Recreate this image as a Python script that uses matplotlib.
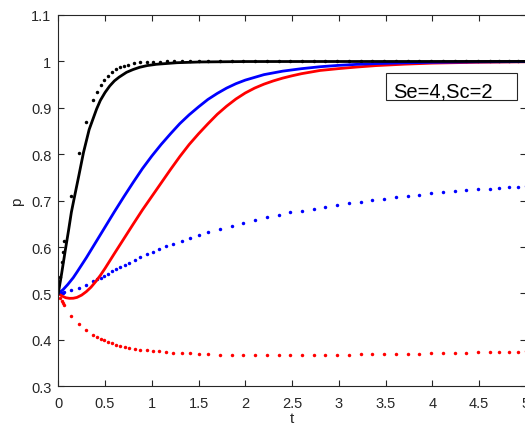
import numpy as np
import matplotlib
matplotlib.use('Agg')
import matplotlib.pyplot as plt
from matplotlib.patches import Rectangle
from matplotlib.ticker import FormatStrFormatter, MultipleLocator

plt.rcParams['font.family'] = ['Liberation Sans', 'DejaVu Sans']

# solid curves
t_black = [0, 0.036, 0.075, 0.11, 0.14, 0.17, 0.22, 0.27, 0.33, 0.41, 0.45, 0.5,
           0.55, 0.6, 0.65, 0.73, 0.8, 0.87, 0.95, 1.05, 1.27, 1.52, 2.0, 5.0]
p_black = [0.5, 0.543, 0.593, 0.636, 0.675, 0.705, 0.754, 0.804, 0.853, 0.8975,
           0.916, 0.933, 0.947, 0.958, 0.966, 0.9765, 0.9825, 0.9873, 0.991,
           0.9938, 0.9972, 0.9988, 0.9997, 1.0]

t_blue = [0, 0.05, 0.1, 0.16, 0.2, 0.3, 0.4, 0.5, 0.6, 0.7, 0.8, 0.9, 1.0, 1.1,
          1.2, 1.3, 1.4, 1.5, 1.6, 1.7, 1.8, 1.9, 2.0, 2.2, 2.4, 2.6, 2.8, 3.0,
          3.2, 3.4, 3.7, 4.0, 4.5, 5.0]
p_blue = [0.5, 0.508, 0.519, 0.534, 0.546, 0.577, 0.610, 0.643, 0.676, 0.708,
          0.739, 0.769, 0.796, 0.821, 0.844, 0.866, 0.885, 0.902, 0.918, 0.931,
          0.9425, 0.952, 0.9597, 0.9715, 0.979, 0.9843, 0.9885, 0.9915, 0.9937,
          0.9953, 0.997, 0.998, 0.999, 0.9995]

t_red = [0, 0.04, 0.08, 0.12, 0.16, 0.2, 0.25, 0.3, 0.35, 0.4, 0.45, 0.5, 0.6,
         0.7, 0.8, 0.9, 1.0, 1.1, 1.2, 1.3, 1.4, 1.5, 1.6, 1.7, 1.8, 1.9, 2.0,
         2.1, 2.2, 2.3, 2.4, 2.5, 2.6, 2.8, 3.0, 3.2, 3.4, 3.7, 4.0, 4.5, 5.0]
p_red = [0.5, 0.4945, 0.4908, 0.4895, 0.4897, 0.4915, 0.4965, 0.504, 0.5135,
         0.5255, 0.539, 0.554, 0.586, 0.6175, 0.649, 0.680, 0.709, 0.738, 0.767,
         0.795, 0.821, 0.844, 0.8655, 0.886, 0.9035, 0.919, 0.932, 0.9425, 0.951,
         0.958, 0.964, 0.969, 0.9735, 0.9805, 0.9845, 0.988, 0.991, 0.994, 0.9963,
         0.9982, 0.9992]

# dotted curves (solver output points)
t_dot = [0, 0.02, 0.04, 0.053, 0.066, 0.139, 0.218, 0.293, 0.37, 0.413, 0.453,
         0.492, 0.532, 0.575, 0.62, 0.665, 0.71, 0.756, 0.817, 0.877, 0.945, 1.01,
         1.08, 1.152, 1.23, 1.32, 1.412, 1.505, 1.601, 1.729, 1.855, 1.979, 2.104,
         2.229, 2.357, 2.481, 2.606, 2.732, 2.856, 2.984, 3.109, 3.236, 3.36,
         3.487, 3.612, 3.737, 3.861, 3.987, 4.114, 4.24, 4.364, 4.489, 4.616,
         4.717, 4.817, 4.92, 5.0]
p_red_dot = [0.5, 0.491, 0.4845, 0.4795, 0.475, 0.452, 0.4336, 0.4207, 0.4102,
             0.406, 0.402, 0.3991, 0.396, 0.3928, 0.39, 0.3877, 0.3855, 0.3835,
             0.381, 0.379, 0.3775, 0.3762, 0.375, 0.3738, 0.3728, 0.3718, 0.3711,
             0.3696, 0.369, 0.3681, 0.3675, 0.3668, 0.3668, 0.3668, 0.3668,
             0.3668, 0.3668, 0.3675, 0.3675, 0.3681, 0.3681, 0.369, 0.369, 0.369,
             0.3696, 0.3703, 0.3703, 0.3711, 0.3711, 0.3718, 0.3724, 0.3733,
             0.3733, 0.3739, 0.3739, 0.3746, 0.375]
p_blue_dot = [0.5, 0.5005, 0.501, 0.5018, 0.503, 0.5077, 0.5127, 0.519, 0.5262,
              0.5305, 0.534, 0.5384, 0.5425, 0.548, 0.553, 0.5575, 0.5615, 0.5657,
              0.5722, 0.5786, 0.5844, 0.59, 0.5958, 0.6017, 0.6073, 0.6137, 0.6202,
              0.626, 0.6325, 0.6396, 0.646, 0.6525, 0.6583, 0.664, 0.6697, 0.6745,
              0.6784, 0.6827, 0.687, 0.6913, 0.695, 0.6978, 0.7014, 0.7042, 0.7072,
              0.71, 0.7128, 0.7159, 0.718, 0.7202, 0.7223, 0.7245, 0.7258, 0.7273,
              0.7288, 0.7301, 0.731]

t_black_dot = [0, 0.02, 0.04, 0.053, 0.066, 0.139, 0.218, 0.296, 0.371, 0.414,
               0.453, 0.492, 0.535, 0.574, 0.614, 0.657, 0.70, 0.742, 0.813, 0.874,
               0.945, 1.016, 1.084, 1.159, 1.237, 1.319, 1.41, 1.50, 1.601, 1.729,
               1.855, 1.979, 2.104, 2.229, 2.357, 2.481, 2.606, 2.732, 2.856, 2.984,
               3.109, 3.236, 3.36, 3.487, 3.612, 3.737, 3.861, 3.987, 4.114, 4.24,
               4.364, 4.489, 4.616, 4.717, 4.817, 4.92, 5.0]
p_black_dot = [0.5, 0.535, 0.567, 0.59, 0.612, 0.711, 0.802, 0.870, 0.916, 0.934,
               0.9485, 0.96, 0.969, 0.977, 0.983, 0.9873, 0.9908, 0.993, 0.996,
               0.998, 0.999, 0.9995, 0.9997] + [1.0] * 34

legend_text = 'Se=4,Sc=2'

fig = plt.figure(figsize=(5.25, 4.31), dpi=100)
ax = fig.add_axes([0.111, 0.1014, 0.8905, 0.8615])

dot_kw = dict(linestyle='none', marker='o', markersize=2.5, markeredgewidth=0)
ax.plot(t_dot, p_red_dot, color='red', **dot_kw)
ax.plot(t_dot, p_blue_dot, color='blue', **dot_kw)
ax.plot(t_black_dot, p_black_dot, color='black', **dot_kw)

ax.plot(t_red, p_red, color='red', lw=2.0)
ax.plot(t_blue, p_blue, color='blue', lw=2.0)
ax.plot(t_black, p_black, color='black', lw=2.0)

ax.set_xlim(0, 5)
ax.set_ylim(0.3, 1.1)
ax.xaxis.set_major_locator(MultipleLocator(0.5))
ax.yaxis.set_major_locator(MultipleLocator(0.1))
ax.xaxis.set_major_formatter(FormatStrFormatter('%g'))
ax.yaxis.set_major_formatter(FormatStrFormatter('%g'))
ax.tick_params(direction='in', length=4, width=0.8, top=True, right=True,
               labelsize=10.5, colors='#262626', pad=5)
ax.tick_params(axis='x', pad=7)
for s in ax.spines.values():
    s.set_color('#262626')
    s.set_linewidth(0.8)

ax.set_xlabel('t', fontsize=11, color='#262626', labelpad=1)
ax.set_ylabel('p', fontsize=11, color='#262626', labelpad=5)

# legend box
fig.add_artist(Rectangle((386.3 / 525, 1 - 101 / 431), (516.7 - 386.3) / 525,
                         27 / 431, transform=fig.transFigure, facecolor='white',
                         edgecolor='#262626', lw=0.8))
fig.text(393 / 525, 1 - 98 / 431, legend_text, fontsize=14.5, color='black',
         ha='left', va='baseline')

fig.savefig('out.png', dpi=100)
